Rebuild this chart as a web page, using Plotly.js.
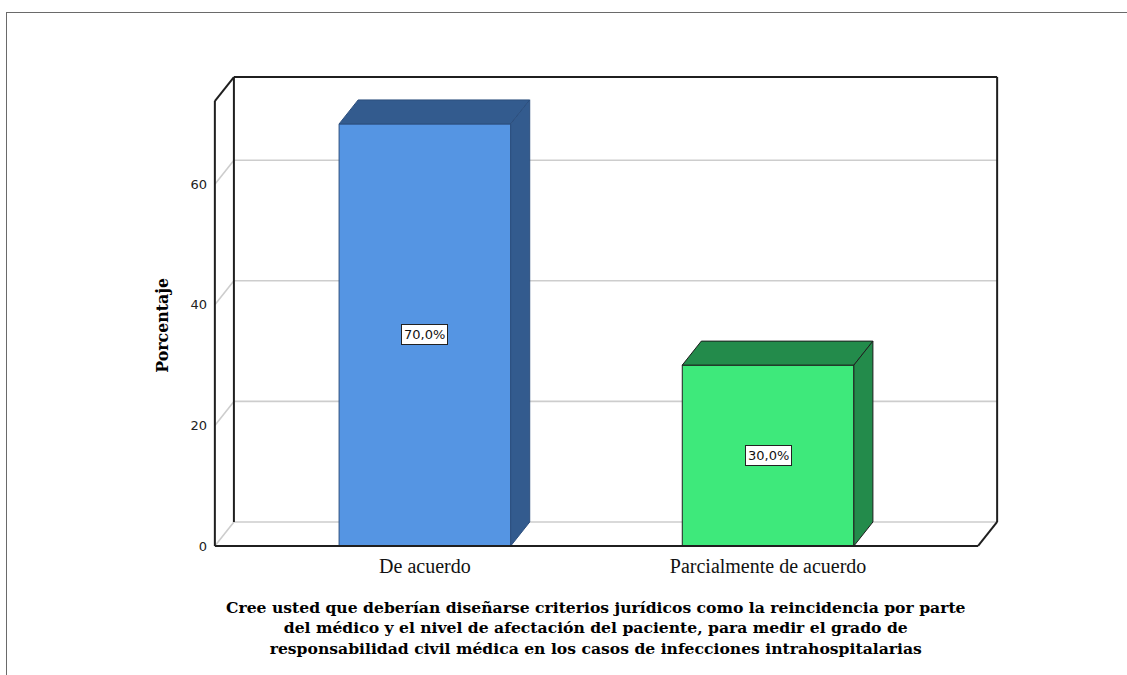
<!DOCTYPE html>
<html>
<head>
<meta charset="utf-8">
<script src="https://cdn.plot.ly/plotly-3.0.1.min.js"></script>
<style>
  html, body { margin: 0; padding: 0; background: #ffffff; }
  #wrap { position: relative; width: 1127px; height: 675px; overflow: hidden; }
  #chart { position: absolute; left: 0; top: 0; width: 1127px; height: 675px; }
  #frame { position: absolute; left: 6px; top: 12px; right: -2px; bottom: -2px;
           border-left: 1px solid #6a6a6a; border-top: 1px solid #6a6a6a; pointer-events: none; }
</style>
</head>
<body>
<div id="wrap">
  <div id="chart"></div>
  <div id="frame"></div>
</div>
<script>
// Survey answers and their percentages
const categories = ['De acuerdo', 'Parcialmente de acuerdo'];
const porcentaje = [70.0, 30.0];
const yTickVals = [0, 20, 40, 60];
const yTickText = ['0', '20', '40', '60'];
const xTitleLines = [
  'Cree usted que deberían diseñarse criterios jurídicos como la reincidencia por parte',
  'del médico y el nivel de afectación del paciente, para medir el grado de',
  'responsabilidad civil médica en los casos de infecciones intrahospitalarias'
];
const yTitle = 'Porcentaje';

// Bar styling
const faceColors = ['#5595E3', '#3EE97B'];
const shadeColors = ['#335B8E', '#238B4B'];
const edgeColors = ['#2c4f7e', '#1e1e1e'];

// 3D box geometry (data units)
const barWidth = 0.5;
const dx = 0.0555, dy = 3.98;       // depth offset
const xLeft = -0.612, xRight = 1.612; // front plane edges
const yTop = 73.8;                  // wall height

// Pixel mapping used to size the plot area
const W = 1127, H = 675;
const pxX0 = 425, pxPerX = 343;
const pxY0 = 546, pxPerY = 6.03;
const padX = 0.02, padYlo = 0.5, padYhi = 1.0;
const xr = [xLeft - padX, xRight + dx + padX];
const yr = [-padYlo, yTop + dy + padYhi];
const mL = pxX0 + xr[0] * pxPerX;
const plotW = (xr[1] - xr[0]) * pxPerX;
const mR = W - mL - plotW;
const mT = pxY0 - yr[1] * pxPerY;
const plotBottom = pxY0 - yr[0] * pxPerY;
const mB = H - plotBottom;
const plotH = plotBottom - mT;

const xPos = categories.map((_, i) => i);

const traces = [];
// front faces
traces.push({
  type: 'bar',
  x: xPos,
  y: porcentaje,
  width: barWidth,
  marker: { color: faceColors, line: { color: edgeColors, width: 1 } },
  hoverinfo: 'skip',
  showlegend: false
});
// top and side faces
porcentaje.forEach((v, i) => {
  const x0 = xPos[i] - barWidth / 2, x1 = xPos[i] + barWidth / 2;
  traces.push({
    type: 'scatter', mode: 'lines', fill: 'toself',
    x: [x0, x1, x1 + dx, x0 + dx, x0],
    y: [v, v, v + dy, v + dy, v],
    fillcolor: shadeColors[i],
    line: { color: edgeColors[i], width: 1 },
    hoverinfo: 'skip', showlegend: false
  });
  traces.push({
    type: 'scatter', mode: 'lines', fill: 'toself',
    x: [x1, x1 + dx, x1 + dx, x1, x1],
    y: [0, dy, v + dy, v, 0],
    fillcolor: shadeColors[i],
    line: { color: edgeColors[i], width: 1 },
    hoverinfo: 'skip', showlegend: false
  });
});

// wall, floor and grid lines
const grid = { color: '#cdcdcd', width: 1.6 };
const edge = { color: '#1f1f1f', width: 2 };
function seg(x0, y0, x1, y1, line, layer) {
  return { type: 'line', xref: 'x', yref: 'y', x0, y0, x1, y1, line, layer: layer || 'below' };
}
const shapes = [];
yTickVals.forEach(v => {
  shapes.push(seg(xLeft + dx, v + dy, xRight + dx, v + dy, grid));
  shapes.push(seg(xLeft, v, xLeft + dx, v + dy, grid));
});
shapes.push(seg(xLeft + dx, dy, xLeft + dx, yTop + dy, edge));
shapes.push(seg(xLeft + dx, yTop + dy, xRight + dx, yTop + dy, edge));
shapes.push(seg(xRight + dx, dy, xRight + dx, yTop + dy, edge));
shapes.push(seg(xLeft, yTop, xLeft + dx, yTop + dy, edge));
shapes.push(seg(xLeft, 0, xLeft, yTop, edge, 'above'));
shapes.push(seg(xLeft, 0, xRight, 0, edge, 'above'));
shapes.push(seg(xRight, 0, xRight + dx, dy, edge, 'above'));

// value labels at mid height of each bar
const annotations = porcentaje.map((v, i) => ({
  x: xPos[i], y: v / 2, xref: 'x', yref: 'y',
  text: v.toFixed(1).replace('.', ',') + '%',
  showarrow: false,
  font: { family: 'DejaVu Sans', size: 13, color: '#111111' },
  bgcolor: '#ffffff', bordercolor: '#222222', borderwidth: 1, borderpad: 2
}));
annotations.push({
  xref: 'x', yref: 'paper', x: (xLeft + xRight) / 2, y: 0,
  yanchor: 'top', yshift: -(596 - plotBottom),
  text: xTitleLines.join('<br>'), showarrow: false, align: 'center',
  font: { family: 'DejaVu Serif', size: 15.6, weight: 'bold', color: '#000000' }
});
annotations.push({
  xref: 'paper', yref: 'paper', x: (162 - mL) / plotW, y: (plotBottom - 325) / plotH,
  xanchor: 'center', yanchor: 'middle', textangle: -90,
  text: yTitle, showarrow: false,
  font: { family: 'DejaVu Serif', size: 15.8, weight: 'bold', color: '#000000' }
});

const layout = {
  width: W, height: H,
  margin: { l: mL, r: mR, t: mT, b: mB, pad: 0 },
  paper_bgcolor: '#ffffff', plot_bgcolor: 'rgba(0,0,0,0)',
  showlegend: false,
  xaxis: {
    range: xr, showgrid: false, zeroline: false, showline: false,
    tickvals: xPos, ticktext: categories, ticks: '', ticklabelstandoff: 3,
    tickfont: { family: 'Liberation Serif', size: 20, color: '#111111' },
    fixedrange: true
  },
  yaxis: {
    range: yr, showgrid: false, zeroline: false, showline: false,
    tickvals: yTickVals, ticktext: yTickText, ticks: '',
    tickfont: { family: 'DejaVu Sans', size: 13, color: '#222222' },
    fixedrange: true
  },
  shapes, annotations,
  bargap: 0
};

Plotly.newPlot('chart', traces, layout, { displayModeBar: false, staticPlot: true });
</script>
</body>
</html>
